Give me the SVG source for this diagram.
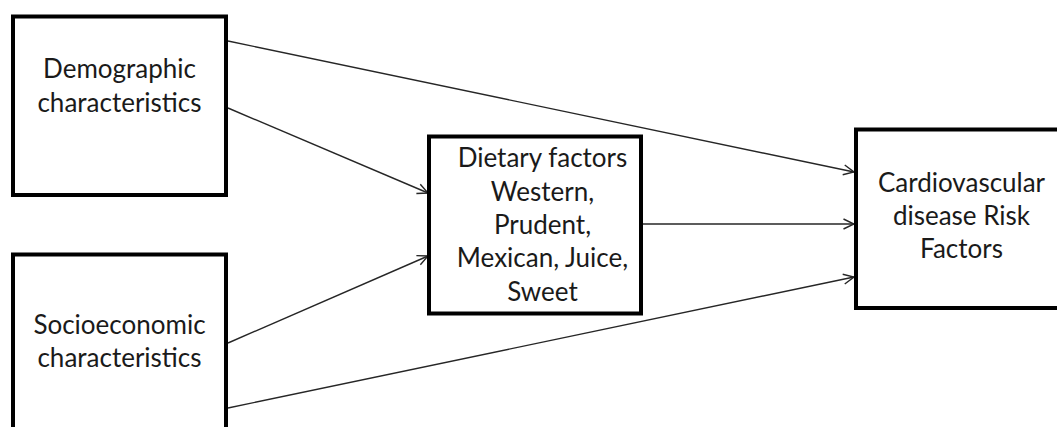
<svg xmlns="http://www.w3.org/2000/svg" width="1057" height="427" viewBox="0 0 1057 427">
  <style>
    .box { fill: #ffffff; stroke: #000000; stroke-width: 4; }
    .label { font-family: Lato, "Liberation Sans", sans-serif; font-size: 26px; fill: #1a1a1a; text-anchor: middle; }
    .link { fill: none; stroke: #262626; stroke-width: 1.4; marker-end: url(#arrow); }
  </style>
  <defs>
    <marker id="arrow" viewBox="0 0 12 12" refX="11.5" refY="6" markerWidth="12" markerHeight="12" markerUnits="userSpaceOnUse" orient="auto">
      <path d="M1,1 L11.5,6 L1,11" fill="none" stroke="#262626" stroke-width="1.4"/>
    </marker>
  </defs>
  <rect width="1057" height="427" fill="#ffffff"/>

  <g id="connectors">
    <line class="link" x1="228" y1="41" x2="854" y2="172"/>
    <line class="link" x1="228" y1="108" x2="428" y2="193"/>
    <line class="link" x1="228" y1="343" x2="428" y2="256"/>
    <line class="link" x1="228" y1="408" x2="854" y2="277"/>
    <line class="link" x1="641" y1="224" x2="854" y2="224"/>
  </g>

  <g id="demographic">
    <rect class="box" x="13" y="16.5" width="213" height="178.5"/>
    <text class="label" x="119.5" y="78">Demographic</text>
    <text class="label" x="119.5" y="111.5">characteristics</text>
  </g>

  <g id="socioeconomic">
    <rect class="box" x="13" y="254.5" width="213" height="190"/>
    <text class="label" x="119.5" y="334">Socioeconomic</text>
    <text class="label" x="119.5" y="367">characteristics</text>
  </g>

  <g id="dietary">
    <rect class="box" x="429" y="136.5" width="212" height="177"/>
    <text class="label" x="542.5" y="167">Dietary factors</text>
    <text class="label" x="542.5" y="200.5">Western,</text>
    <text class="label" x="542.5" y="234">Prudent,</text>
    <text class="label" x="542.5" y="267">Mexican, Juice,</text>
    <text class="label" x="542.5" y="300.5">Sweet</text>
  </g>

  <g id="cvd">
    <rect class="box" x="856" y="129.5" width="220" height="178.5"/>
    <text class="label" x="961.5" y="191.5">Cardiovascular</text>
    <text class="label" x="961.5" y="225">disease Risk</text>
    <text class="label" x="961.5" y="258">Factors</text>
  </g>
</svg>
